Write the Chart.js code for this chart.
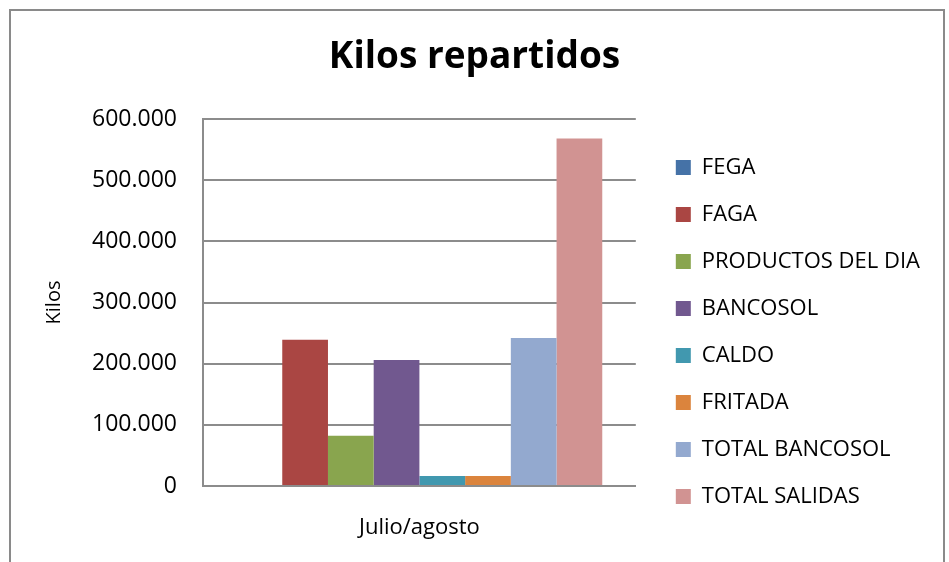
<!DOCTYPE html>
<html>
<head>
<meta charset="utf-8">
<script src="https://cdn.jsdelivr.net/npm/chart.js@4/dist/chart.umd.min.js"></script>
<style>
    html, body { margin: 0; padding: 0; background: #fff; }
    #wrap { position: relative; width: 949px; height: 562px; overflow: hidden; }
    #frame { position: absolute; left: 9px; top: 9px; width: 936px; height: 600px; border: 2px solid #8a8a8a; box-sizing: border-box; pointer-events: none; }
    canvas { position: absolute; left: 0; top: 0; }
</style>
</head>
<body>
<div id="wrap">
    <canvas id="kilosChart" width="949" height="562"></canvas>
    <div id="frame"></div>
</div>
<script>
// Kilos repartidos - julio/agosto

// ==================== DATA ====================
const categories = ['Julio/agosto'];
const seriesNames = ['FEGA', 'FAGA', 'PRODUCTOS DEL DIA', 'BANCOSOL', 'CALDO', 'FRITADA', 'TOTAL BANCOSOL', 'TOTAL SALIDAS'];
const seriesValues = [0, 239000, 82000, 206000, 16500, 16500, 242000, 568000];
const seriesColors = ['#4572A7', '#AA4643', '#89A54E', '#71588F', '#4198AF', '#DB843D', '#93A9CF', '#D19392'];
const yTicks = [0, 100000, 200000, 300000, 400000, 500000, 600000];

const FONT = "'Open Sans', sans-serif";
const GRID = '#8c8c8c';
const SIDE = 19; // same padding both sides keeps the title centred

function formatMiles(v) {
    return String(v).replace(/\B(?=(\d{3})+(?!\d))/g, '.');
}

// ==================== CHART ====================
const ctx = document.getElementById('kilosChart');
new Chart(ctx, {
    type: 'bar',
    data: {
        labels: categories,
        datasets: seriesNames.map((name, i) => ({
            label: name,
            data: [seriesValues[i]],
            backgroundColor: seriesColors[i],
            borderWidth: 0,
            categoryPercentage: 0.845,
            barPercentage: 1.0
        }))
    },
    options: {
        responsive: false, animation: false,
        devicePixelRatio: 1,
        layout: { padding: { left: SIDE, right: SIDE, top: 0, bottom: 0 } },
        plugins: {
            title: {
                display: true, text: 'Kilos repartidos', color: '#000',
                font: { family: FONT, size: 37, weight: 'bold' },
                padding: { top: 35, bottom: 39.6 }
            },
            legend: {
                position: 'right', align: 'start', maxWidth: 330,
                // empty title only used as a spacer above the first item
                title: { display: true, text: '', font: { size: 1 }, padding: { top: 0, bottom: 130.3 } },
                labels: {
                    color: '#000', boxWidth: 15, boxHeight: 15, padding: 25,
                    font: { family: FONT, size: 22 }
                }
            },
            tooltip: { enabled: false }
        },
        scales: {
            x: {
                grid: { display: false, drawTicks: false },
                border: { color: GRID, width: 2 },
                ticks: { color: '#000', padding: 29, font: { family: FONT, size: 22 } },
                afterFit: s => { s.height = 76; }
            },
            y: {
                min: 0, max: 600000,
                afterBuildTicks: s => { s.ticks = yTicks.map(v => ({ value: v })); },
                grid: { color: GRID, lineWidth: 2, drawTicks: false },
                border: { color: GRID, width: 2 },
                ticks: { color: '#000', padding: 26, font: { family: FONT, size: 23 }, callback: v => formatMiles(v) },
                title: { display: true, text: 'Kilos', color: '#000', font: { family: FONT, size: 20 }, padding: { top: 23, bottom: 0 } },
                afterFit: s => { s.width = 203 - SIDE; }
            },
            yPad: {
                position: 'right', display: true,
                grid: { display: false, drawTicks: false },
                border: { display: false },
                ticks: { display: false },
                afterFit: s => { s.width = 15; }
            }
        }
    }
});
</script>
</body>
</html>
